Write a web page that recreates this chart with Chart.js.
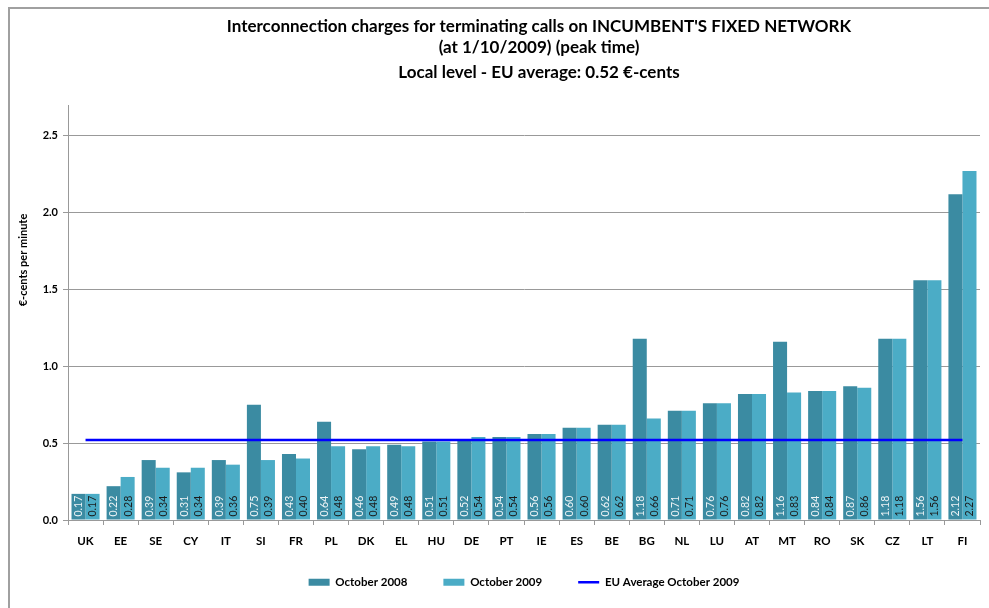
<!DOCTYPE html>
<html>
<head>
<meta charset="utf-8">
<title>Interconnection charges - incumbent's fixed network</title>
<script src="https://cdn.jsdelivr.net/npm/chart.js@4.4.1/dist/chart.umd.min.js"></script>
<style>
  html, body { margin: 0; padding: 0; background: #fff; }
  #frame {
    position: absolute; left: 8px; top: 7px;
    width: 979px; height: 599px;
    border-left: 2px solid #a0a0a0; border-top: 2px solid #a0a0a0;
  }
  #wrap { position: absolute; left: 0; top: 0; width: 979px; height: 599px; }
</style>
</head>
<body>
<div id="frame"><div id="wrap"><canvas id="chart"></canvas></div></div>
<script>
const countries = ["UK", "EE", "SE", "CY", "IT", "SI", "FR", "PL", "DK", "EL", "HU", "DE", "PT",
  "IE", "ES", "BE", "BG", "NL", "LU", "AT", "MT", "RO", "SK", "CZ", "LT", "FI"];
const oct2008 = [0.17, 0.22, 0.39, 0.31, 0.39, 0.75, 0.43, 0.64, 0.46, 0.49, 0.51, 0.52, 0.54,
  0.56, 0.60, 0.62, 1.18, 0.71, 0.76, 0.82, 1.16, 0.84, 0.87, 1.18, 1.56, 2.12];
const oct2009 = [0.17, 0.28, 0.34, 0.34, 0.36, 0.39, 0.40, 0.48, 0.48, 0.48, 0.51, 0.54, 0.54,
  0.56, 0.60, 0.62, 0.66, 0.71, 0.76, 0.82, 0.83, 0.84, 0.86, 1.18, 1.56, 2.27];
const euAverage = [0.52, 0.52, 0.52, 0.52, 0.52, 0.52, 0.52, 0.52, 0.52, 0.52, 0.52, 0.52, 0.52,
  0.52, 0.52, 0.52, 0.52, 0.52, 0.52, 0.52, 0.52, 0.52, 0.52, 0.52, 0.52, 0.52];
const yTicks = [0, 0.5, 1.0, 1.5, 2.0, 2.5];
const titleLines = [
  "Interconnection charges for terminating calls on INCUMBENT'S FIXED NETWORK",
  "(at 1/10/2009) (peak time)",
  "Local level - EU average: 0.52 €-cents"
];
const yAxisTitle = "€-cents per minute";

const FONT = "Lato, 'Open Sans', sans-serif";
const axisGrey = "#999999";

// titles drawn by hand so they sit where the original puts them
const titlePlugin = {
  id: "titleLines",
  afterDraw(chart) {
    const ctx = chart.ctx;
    ctx.save();
    ctx.fillStyle = "#000";
    ctx.textAlign = "center";
    ctx.textBaseline = "middle";
    ctx.font = `bold 17px ${FONT}`;
    const ys = [17.5, 39, 64];
    titleLines.forEach((t, i) => ctx.fillText(t, 529, ys[i]));

    ctx.translate(13, 251);
    ctx.rotate(-Math.PI / 2);
    ctx.font = `bold 11px ${FONT}`;
    ctx.fillText(yAxisTitle, 0, 0);
    ctx.restore();
  },
  // x labels hang below the (short) axis box; widen its clip area
  afterLayout(chart) {
    chart.scales.x.bottom += 14;
  }
};

// rotated value labels at the foot of each bar
const barLabels = {
  id: "barLabels",
  afterDatasetsDraw(chart) {
    const ctx = chart.ctx;
    ctx.save();
    ctx.font = `10.5px ${FONT}`;
    ctx.textAlign = "left";
    ctx.textBaseline = "middle";
    [0, 1].forEach((di) => {
      const values = chart.data.datasets[di].data;
      chart.getDatasetMeta(di).data.forEach((bar, i) => {
        ctx.save();
        ctx.translate(bar.x, bar.base - 3);
        ctx.rotate(-Math.PI / 2);
        ctx.fillStyle = di === 0 ? "#eef4f6" : "#1b1b1b";
        ctx.fillText(values[i].toFixed(2), 0, 0.5);
        ctx.restore();
      });
    });
    ctx.restore();
  }
};

new Chart(document.getElementById("chart"), {
  type: "bar",
  data: {
    labels: countries,
    datasets: [
      {
        label: "October 2008",
        data: oct2008,
        backgroundColor: "#3b8ba2",
        categoryPercentage: 0.8,
        barPercentage: 1.0,
        pointStyle: "rect",
        order: 1
      },
      {
        label: "October 2009",
        data: oct2009,
        backgroundColor: "#4bacc6",
        categoryPercentage: 0.8,
        barPercentage: 1.0,
        pointStyle: "rect",
        order: 1
      },
      {
        type: "line",
        label: "EU Average October 2009",
        data: euAverage,
        borderColor: "#0000ff",
        backgroundColor: "#0000ff",
        borderWidth: 2.5,
        pointRadius: 0,
        pointStyle: "line",
        order: 0
      }
    ]
  },
  options: {
    responsive: true,
    maintainAspectRatio: false,
    animation: false,
    layout: { padding: { top: 96, right: 9, left: 0, bottom: 10 } },
    plugins: {
      title: { display: false },
      tooltip: { enabled: false },
      legend: {
        position: "bottom",
        fullSize: false,
        labels: {
          usePointStyle: true,
          pointStyleWidth: 21,
          boxHeight: 7,
          padding: 36,
          color: "#000",
          font: { family: FONT, size: 11.5, weight: "bold" },
          sort: (a, b) => a.datasetIndex - b.datasetIndex
        }
      }
    },
    scales: {
      x: {
        grid: {
          offset: true,
          drawOnChartArea: false,
          drawTicks: true,
          tickLength: 5,
          color: axisGrey
        },
        border: { color: axisGrey, width: 1 },
        ticks: {
          color: "#000",
          padding: 9,
          maxRotation: 0,
          autoSkip: false,
          font: { family: FONT, size: 11.5, weight: "bold" }
        },
        afterFit(scale) { scale.height = 20.5; }
      },
      y: {
        min: 0,
        max: 2.7,
        afterBuildTicks(scale) { scale.ticks = yTicks.map((v) => ({ value: v })); },
        afterFit(scale) { scale.width = 58; },
        grid: { color: axisGrey, tickLength: 5 },
        border: { color: axisGrey, width: 1 },
        ticks: {
          color: "#000",
          padding: 5,
          font: { family: FONT, size: 11, weight: "bold" },
          callback: (v) => Number(v).toFixed(1)
        }
      }
    }
  },
  plugins: [titlePlugin, barLabels]
});
</script>
</body>
</html>
